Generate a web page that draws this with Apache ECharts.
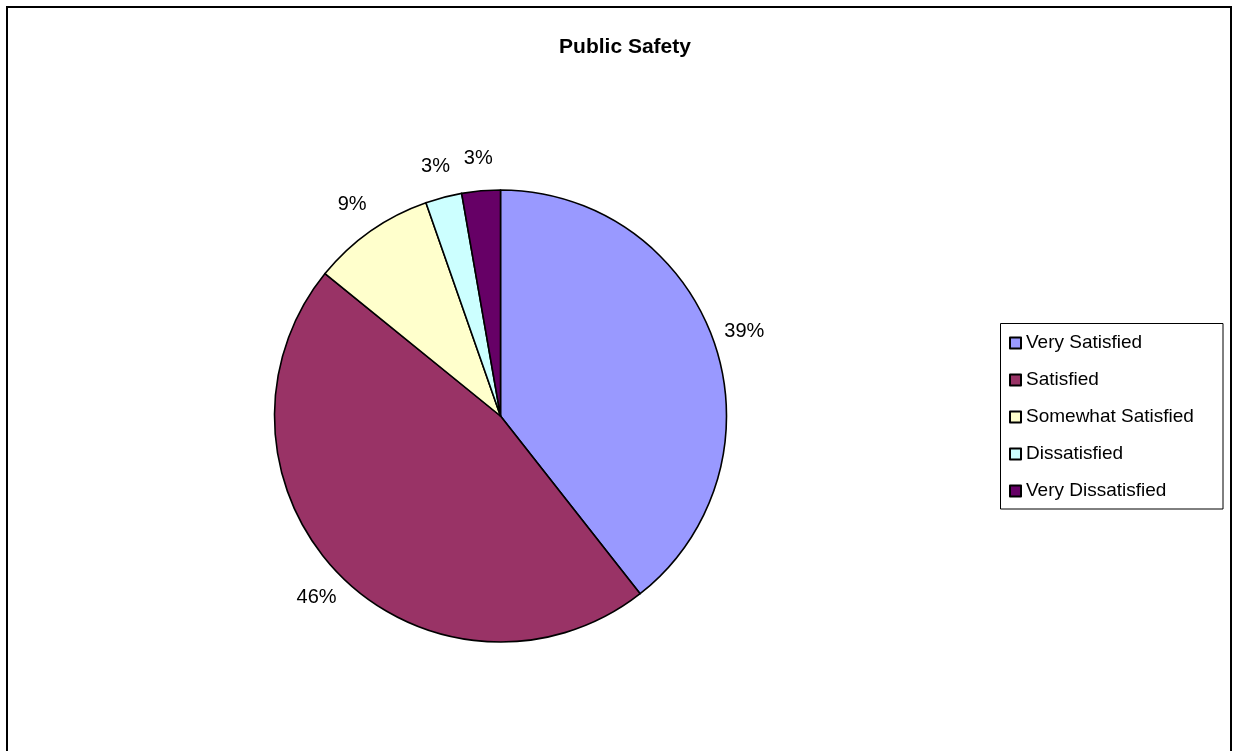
<!DOCTYPE html>
<html>
<head>
<meta charset="utf-8">
<script src="https://cdn.jsdelivr.net/npm/echarts@6/dist/echarts.min.js"></script>
<style>
html,body{margin:0;padding:0;background:#fff;}
#chart{width:1233px;height:751px;}
</style>
</head>
<body>
<div id="chart"></div>
<script>
const title = 'Public Safety';
const categories = ['Very Satisfied', 'Satisfied', 'Somewhat Satisfied', 'Dissatisfied', 'Very Dissatisfied'];
const values = [39.4, 46.45, 8.8, 2.6, 2.75];
const colors = ['#9999FF', '#993366', '#FFFFCC', '#CCFFFF', '#660066'];

const FONT = '"Liberation Sans", Arial, sans-serif';
const data = categories.map((c, i) => ({ name: c, value: values[i] }));

const chart = echarts.init(document.getElementById('chart'), null, { renderer: 'canvas' });
chart.setOption({
  backgroundColor: '#fff',
  animation: false,
  color: colors,
  title: {
    text: title,
    left: 620,
    top: 32,
    textAlign: 'center',
    textStyle: { fontFamily: FONT, fontWeight: 'bold', fontSize: 21, color: '#000' }
  },
  legend: {
    data: categories,
    orient: 'vertical',
    left: 1009,
    top: 333,
    padding: 0,
    itemWidth: 11,
    itemHeight: 11,
    itemGap: 17,
    icon: 'rect',
    selectedMode: false,
    textStyle: { fontFamily: FONT, fontSize: 19, color: '#000', lineHeight: 20 }
  },
  graphic: [
    { type: 'rect', shape: { x: 7, y: 7, width: 1224, height: 760 }, style: { fill: 'none', stroke: '#000', lineWidth: 2 }, silent: true, z: 100 },
    { type: 'rect', shape: { x: 1000.5, y: 323.5, width: 222.5, height: 185.5 }, style: { fill: 'none', stroke: '#000', lineWidth: 1 }, silent: true, z: 100 }
  ],
  series: [
    {
      type: 'pie',
      center: [500.5, 416],
      radius: 226,
      startAngle: 90,
      clockwise: true,
      silent: true,
      data: data,
      itemStyle: { borderColor: '#000', borderWidth: 1.6 },
      label: { show: false },
      labelLine: { show: false },
      emphasis: { disabled: true }
    },
    {
      type: 'pie',
      center: [500.5, 416],
      radius: [243, 267],
      startAngle: 90,
      clockwise: true,
      silent: true,
      data: data,
      itemStyle: { color: 'rgba(0,0,0,0)', borderWidth: 0 },
      label: {
        show: true,
        position: 'inside',
        formatter: p => Math.round(p.percent) + '%',
        fontFamily: FONT,
        fontSize: 20,
        color: '#000'
      },
      labelLine: { show: false },
      emphasis: { disabled: true }
    }
  ]
});
</script>
</body>
</html>
